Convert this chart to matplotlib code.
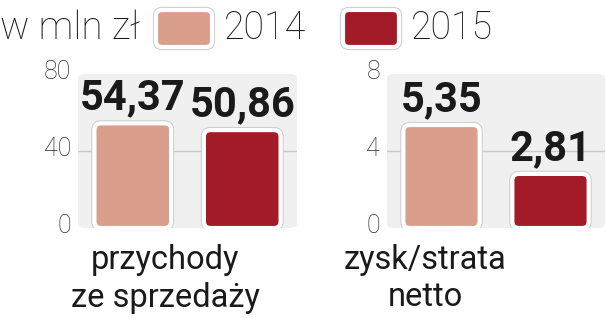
import matplotlib
matplotlib.use("Agg")
import matplotlib.pyplot as plt
import matplotlib.patheffects as pe
import matplotlib.transforms as mtransforms
from matplotlib.patches import FancyBboxPatch

plt.rcParams["font.family"] = ["Roboto", "DejaVu Sans"]
plt.rcParams["font.weight"] = "normal"

# dane
years = ["2014", "2015"]
colors = ["#d99f8c", "#a21b26"]
unit_label = "w mln zł"
categories = ["przychody\nze sprzedaży", "zysk/strata\nnetto"]
values = [[54.37, 50.86], [5.35, 2.81]]
value_labels = [["54,37", "50,86"], ["5,35", "2,81"]]
yticks = [[0, 40, 80], [0, 4, 8]]

W, H = 606, 319
fig = plt.figure(figsize=(W / 100, H / 100), dpi=100)

# pozycje paneli w pikselach (lewy, prawy)
panels = [(78, 297), (387, 605)]
ax_top, ax_bot = 74, 228
label_x = [165, 425]

bar_edge = [pe.Stroke(linewidth=4.5, foreground="#cfcfcf"), pe.Normal()]

for i, (x0, x1) in enumerate(panels):
    ax = fig.add_axes([x0 / W, 1 - ax_bot / H, (x1 - x0) / W, (ax_bot - ax_top) / H])
    ax.set_xlim(-0.5, 1.5)
    ax.set_ylim(yticks[i][0], yticks[i][-1])
    ax.patch.set_visible(False)
    for s in ax.spines.values():
        s.set_visible(False)

    bg = FancyBboxPatch((0, 0), 1, 1, boxstyle="round,pad=0,rounding_size=0.03",
                        transform=ax.transAxes, facecolor="#f0f0f0", edgecolor="none",
                        zorder=0, clip_on=False)
    ax.add_patch(bg)
    ax.axhline(yticks[i][1], color="#c8c8c8", lw=1, zorder=0.5)

    # aspekt do zaokrągleń słupków
    px_w = (x1 - x0)
    px_h = (ax_bot - ax_top)
    asp = ((yticks[i][-1] - yticks[i][0]) / px_h) / (2.0 / px_w)

    bars = ax.bar([0, 1], values[i], width=0.70, color=colors)
    for b, lab in zip(bars, value_labels[i]):
        bx, by, bw, bh = b.get_x(), b.get_y(), b.get_width(), b.get_height()
        b.set_visible(False)
        rb = FancyBboxPatch((bx, by), bw, bh,
                            boxstyle="round,pad=0,rounding_size=0.06",
                            mutation_aspect=asp, facecolor=b.get_facecolor(),
                            edgecolor="white", linewidth=3, zorder=2,
                            path_effects=bar_edge)
        ax.add_patch(rb)
        ax.annotate(lab, (bx + bw / 2, by + bh), xytext=(0, 10), textcoords="offset points",
                    ha="center", va="baseline", fontsize=30, fontweight="bold",
                    family=["Roboto", "DejaVu Sans"], color="#1a1a1a")

    ax.set_xticks([])
    ax.set_yticks(yticks[i])
    ax.tick_params(axis="y", length=0, pad=5, labelsize=18, labelcolor="#2a2a2a")
    shift = mtransforms.ScaledTranslation(0, 3 / 72, fig.dpi_scale_trans)
    for t in ax.get_yticklabels():
        t.set_fontweight("light")
        t.set_transform(t.get_transform() + shift)

    fig.text(label_x[i] / W, 1 - 279 / H, categories[i], ha="center", va="center",
             fontsize=23.5, linespacing=1.2, color="#1a1a1a")

# legenda
leg_y = 1 - 28 / H
fig.text(0, leg_y, unit_label, ha="left", va="center", fontsize=28, color="#1a1a1a",
         fontweight="light")
for (px, tx), c, yr in zip([(156, 224), (343, 411)], colors, years):
    p = FancyBboxPatch((px / W, 1 - 47 / H), 56 / W, 37 / H,
                       boxstyle="round,pad=0,rounding_size=0.01",
                       mutation_aspect=W / H, transform=fig.transFigure,
                       facecolor=c, edgecolor="white", linewidth=3,
                       path_effects=bar_edge)
    fig.add_artist(p)
    fig.text(tx / W, leg_y, yr, ha="left", va="center", fontsize=27, color="#1a1a1a",
             fontweight="light")

fig.savefig("out.png", dpi=100)
